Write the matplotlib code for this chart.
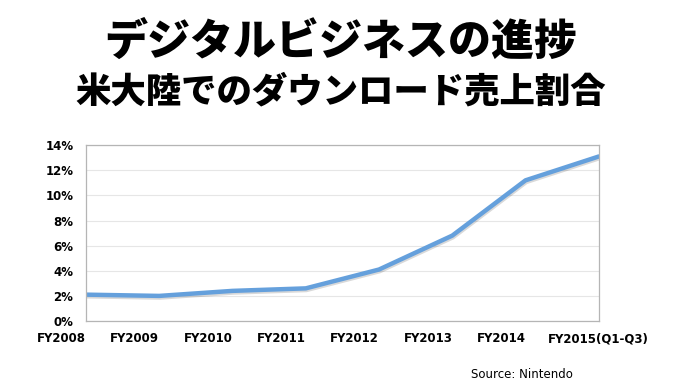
import matplotlib.pyplot as plt
import matplotlib.patheffects as pe

plt.rcParams["font.family"] = ["Noto Sans CJK JP", "DejaVu Sans"]

years = ["FY2008", "FY2009", "FY2010", "FY2011", "FY2012", "FY2013", "FY2014", "FY2015(Q1-Q3)"]
download_share = [2.1, 2.0, 2.4, 2.6, 4.1, 6.8, 11.2, 13.1]
y_ticks = [0, 2, 4, 6, 8, 10, 12, 14]

fig = plt.figure(figsize=(6.82, 3.84), dpi=100)
ax = fig.add_axes([0.126, 0.164, 0.752, 0.458])

x = list(range(len(years)))
ax.plot(
    x, download_share, color="#65a0dc", lw=3.2, solid_capstyle="round",
    path_effects=[pe.SimpleLineShadow(offset=(0.5, -1.2), alpha=0.15), pe.Normal()],
)

ax.set_xlim(0, len(years) - 1)
ax.set_ylim(0, 14)
ax.set_yticks(y_ticks)
ax.set_yticklabels([f"{v}%" for v in y_ticks], fontsize=8.5, fontweight="bold",
                   family="DejaVu Sans")
ax.set_xticks(x)
ax.set_xticklabels(years, fontsize=8.5, fontweight="bold", family="DejaVu Sans")
for i, lab in enumerate(ax.get_xticklabels()):
    if i < len(years) - 1:
        lab.set_horizontalalignment("right")

ax.tick_params(length=0, pad=8)
ax.tick_params(axis="y", pad=9)
ax.grid(axis="y", color="#e6e6e6", lw=0.8)
ax.set_axisbelow(True)
for s in ax.spines.values():
    s.set_color("#b5b5b5")
    s.set_linewidth(0.9)

fig.text(0.5, 0.89, "デジタルビジネスの進捗", ha="center", va="center",
         fontsize=31, fontweight="heavy")
fig.text(0.5, 0.763, "米大陸でのダウンロード売上割合", ha="center", va="center",
         fontsize=25.5, fontweight="heavy")
fig.text(0.69, 0.025, "Source: Nintendo", ha="left", va="center", fontsize=8.5,
         family="DejaVu Sans")

fig.savefig("out.png", dpi=100)
